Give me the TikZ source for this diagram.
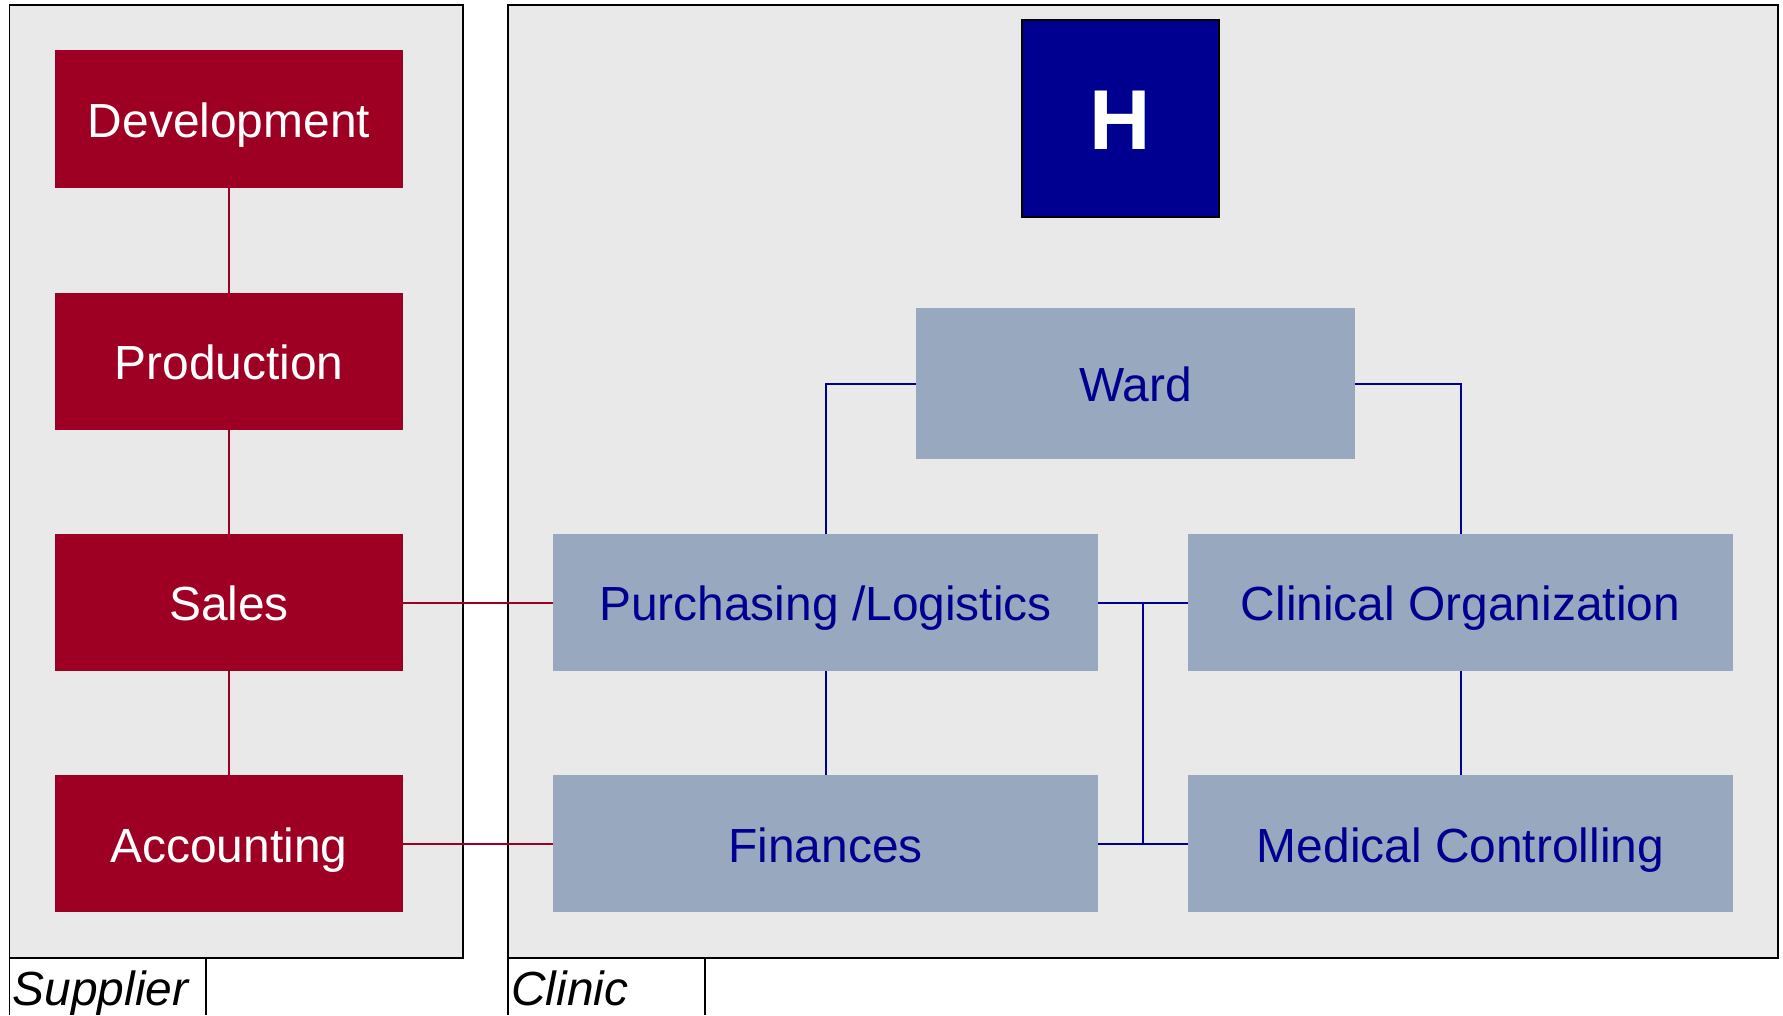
\documentclass[tikz,border=0pt]{standalone}
\usepackage{fontspec}
\setmainfont{Liberation Sans}
\usetikzlibrary{calc}
\definecolor{panelgray}{HTML}{E9E9E9}
\definecolor{crimsonbox}{HTML}{9E0024}
\definecolor{steelbox}{HTML}{98A8BF}
\definecolor{navybox}{HTML}{000090}
\tikzset{
  panel/.style={draw=black,fill=panelgray,line width=1.8pt,inner sep=0pt,outer sep=0pt,rectangle},
  redbox/.style={fill=crimsonbox,text=white,inner sep=0pt,minimum width=348pt,minimum height=137pt,
    font=\fontsize{47.9pt}{50pt}\selectfont,text height=36pt,text depth=0pt},
  bluebox/.style={fill=steelbox,text=navybox,inner sep=0pt,minimum width=545pt,minimum height=137pt,
    font=\fontsize{47.9pt}{50pt}\selectfont,text height=35.5pt,text depth=0pt},
  redline/.style={draw=crimsonbox,line width=2pt},
  blueline/.style={draw=navybox,line width=2pt},
  tabline/.style={draw=black,line width=1.8pt},
  tablabel/.style={anchor=base west,inner sep=0pt,font=\fontsize{47.9pt}{50pt}\selectfont\itshape,text=black}
}
\begin{document}
\begin{tikzpicture}[x=1pt,y=-1pt]
\useasboundingbox (0,0) rectangle (1783,1015);
\fill[white] (0,0) rectangle (1783,1015);
% panels
\node[panel,minimum width=453.5pt,minimum height=953pt] (supplier) at (236.25,481.5) {};
\node[panel,minimum width=1270pt,minimum height=953pt] (clinic) at (1143,481.5) {};
% tabs
\coordinate (stabr) at (206,958);
\coordinate (ctabr) at (705,958);
\draw[tabline] (supplier.south west) -- ++(0,57);
\draw[tabline] (stabr) -- ++(0,57);
\draw[tabline] (clinic.south west) -- ++(0,57);
\draw[tabline] (ctabr) -- ++(0,57);
\node[tablabel] (suplabel) at (12.5,1005) {Supplier};
\node[tablabel] (clilabel) at (511,1005) {Clinic};
% supplier boxes
\node[redbox,minimum height=138pt] (dev) at (229,119) {Development};
\node[redbox] (prod) at (229,361.5) {Production};
\node[redbox] (sales) at (229,602.75) {Sales};
\node[redbox,text height=37.5pt] (acc) at (229,843.5) {Accounting};
% clinic boxes
\node[draw=black,line width=2pt,outer sep=0pt,fill=navybox,text=white,inner sep=0pt,minimum size=197pt,
  font=\fontsize{85pt}{90pt}\selectfont\bfseries,text height=62pt,text depth=0pt] (h) at (1120.5,118.5) {H};
\node[bluebox,minimum width=439pt,minimum height=151pt] (ward) at (1135.5,383.5) {Ward};
\node[bluebox] (purch) at (825.5,602.75) {Purchasing /Logistics};
\node[bluebox] (clin) at (1460.5,602.75) {Clinical Organization};
\node[bluebox,text height=37pt] (fin) at (825.5,843.5) {Finances};
\node[bluebox,text height=37pt] (med) at (1460.5,843.5) {Medical Controlling};
% connectors
\draw[redline] (dev.south) -- (prod.north);
\draw[redline] (prod.south) -- (sales.north);
\draw[redline] (sales.south) -- (acc.north);
\draw[redline] (sales.east) -- (purch.west);
\draw[redline] (acc.east) -- (fin.west);
\draw[blueline] (ward.west) -| (purch.north);
\draw[blueline] (ward.east) -| (clin.north);
\draw[blueline] (purch.south) -- (fin.north);
\draw[blueline] (clin.south) -- (med.north);
\draw[blueline] (purch.east) -- (clin.west);
\draw[blueline] (fin.east) -- (med.west);
\coordinate (jtop) at ($(purch.east)!0.5!(clin.west)$);
\coordinate (jbot) at ($(fin.east)!0.5!(med.west)$);
\draw[blueline] (jtop) -- (jbot);
\end{tikzpicture}
\end{document}
